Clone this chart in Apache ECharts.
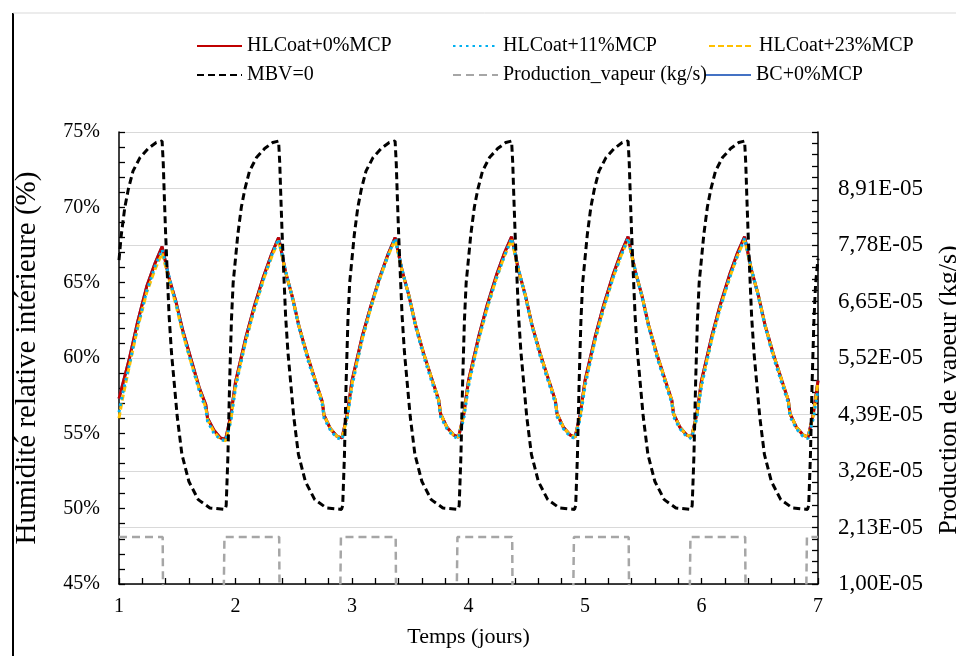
<!DOCTYPE html>
<html><head><meta charset="utf-8">
<script src="https://cdn.jsdelivr.net/npm/echarts@6/dist/echarts.min.js"></script>
<style>html,body{margin:0;padding:0;background:#fff;overflow:hidden;width:956px;height:656px}#c{width:956px;height:656px;display:block}</style>
</head><body><div id="c"></div>
<script>
// ---- DATA ----
const humTime = [
1,1.03,1.09,1.16,1.24,1.31,1.37,1.43,1.49,1.545,1.615,1.69,1.745,1.76,1.815,1.87,1.915,1.96,
2,2.03,2.09,2.16,2.24,2.31,2.37,2.43,2.49,2.545,2.615,2.69,2.745,2.76,2.815,2.87,2.915,2.96,
3,3.03,3.09,3.16,3.24,3.31,3.37,3.43,3.49,3.545,3.615,3.69,3.745,3.76,3.815,3.87,3.915,3.96,
4,4.03,4.09,4.16,4.24,4.31,4.37,4.43,4.49,4.545,4.615,4.69,4.745,4.76,4.815,4.87,4.915,4.96,
5,5.03,5.09,5.16,5.24,5.31,5.37,5.43,5.49,5.545,5.615,5.69,5.745,5.76,5.815,5.87,5.915,5.96,
6,6.03,6.09,6.16,6.24,6.31,6.37,6.43,6.49,6.545,6.615,6.69,6.745,6.76,6.815,6.87,6.915,6.96,
7];
const hlcoat0 = [
57.3,58.2,60.0,62.4,64.8,66.3,67.4,65.3,63.7,61.9,60.0,58.0,56.9,56.0,55.2,54.7,54.6,56.2,
58.4,59.4,61.4,63.4,65.4,66.9,68.0,65.7,64.0,62.1,60.2,58.4,57.1,56.2,55.3,54.8,54.7,56.3,
58.5,59.5,61.5,63.4,65.4,66.9,68.0,65.8,64.1,62.2,60.3,58.5,57.2,56.3,55.4,54.9,54.75,56.3,
58.5,59.5,61.5,63.5,65.5,67.0,68.05,65.8,64.1,62.2,60.3,58.5,57.2,56.3,55.4,54.9,54.75,56.3,
58.5,59.5,61.5,63.5,65.5,67.0,68.05,65.8,64.1,62.2,60.3,58.5,57.2,56.3,55.4,54.9,54.75,56.3,
58.5,59.5,61.5,63.5,65.5,67.0,68.05,65.8,64.1,62.2,60.3,58.5,57.2,56.3,55.4,54.9,54.75,56.3,
58.5];
const hlcoat11 = [
56.4,57.6,59.6,62.1,64.5,66.1,67.2,65.4,63.6,61.8,59.8,57.8,56.6,55.8,55.0,54.6,54.5,55.8,
58.0,59.1,61.2,63.2,65.2,66.8,67.9,65.8,63.9,62.0,60.0,58.2,56.9,56.0,55.2,54.7,54.6,56.0,
58.1,59.2,61.3,63.3,65.3,66.8,67.95,65.9,64.0,62.1,60.1,58.3,57.0,56.1,55.3,54.8,54.65,56.0,
58.1,59.2,61.3,63.3,65.3,66.8,67.95,65.9,64.0,62.1,60.1,58.3,57.0,56.1,55.3,54.8,54.65,56.0,
58.1,59.2,61.3,63.3,65.3,66.8,67.95,65.9,64.0,62.1,60.1,58.3,57.0,56.1,55.3,54.8,54.65,56.0,
58.1,59.2,61.3,63.3,65.3,66.8,67.95,65.9,64.0,62.1,60.1,58.3,57.0,56.1,55.3,54.8,54.65,56.0,
57.9];
const hlcoat23 = [
56.0,57.3,59.5,62.0,64.4,65.9,66.95,65.2,63.5,61.7,59.8,57.9,56.7,55.9,55.1,54.6,54.5,55.9,
58.2,59.2,61.2,63.2,65.2,66.7,67.8,65.7,64.0,62.1,60.2,58.4,57.1,56.2,55.3,54.8,54.7,56.1,
58.3,59.3,61.3,63.3,65.3,66.8,67.85,65.8,64.1,62.2,60.3,58.5,57.2,56.3,55.4,54.9,54.75,56.2,
58.3,59.3,61.3,63.3,65.3,66.8,67.85,65.8,64.1,62.2,60.3,58.5,57.2,56.3,55.4,54.9,54.75,56.2,
58.3,59.3,61.3,63.3,65.3,66.8,67.85,65.8,64.1,62.2,60.3,58.5,57.2,56.3,55.4,54.9,54.75,56.2,
58.3,59.3,61.3,63.3,65.3,66.8,67.85,65.8,64.1,62.2,60.3,58.5,57.2,56.3,55.4,54.9,54.75,56.2,
58.4];
const bc0 = [
57.3,58.2,60.0,62.4,64.8,66.3,67.4,65.3,63.7,61.9,60.0,58.0,56.9,56.0,55.2,54.7,54.6,56.2,
58.4,59.4,61.4,63.4,65.4,66.9,68.0,65.7,64.0,62.1,60.2,58.4,57.1,56.2,55.3,54.8,54.7,56.3,
58.5,59.5,61.5,63.4,65.4,66.9,68.0,65.8,64.1,62.2,60.3,58.5,57.2,56.3,55.4,54.9,54.75,56.3,
58.5,59.5,61.5,63.5,65.5,67.0,68.05,65.8,64.1,62.2,60.3,58.5,57.2,56.3,55.4,54.9,54.75,56.3,
58.5,59.5,61.5,63.5,65.5,67.0,68.05,65.8,64.1,62.2,60.3,58.5,57.2,56.3,55.4,54.9,54.75,56.3,
58.5,59.5,61.5,63.5,65.5,67.0,68.05,65.8,64.1,62.2,60.3,58.5,57.2,56.3,55.4,54.9,54.75,56.3,
58.5];
const mbvTime = [
1,1.02,1.05,1.08,1.12,1.18,1.25,1.32,1.37,1.38,1.39,1.40,1.415,1.43,1.45,1.50,1.54,1.60,1.68,1.78,1.91,1.92,1.935,1.95,1.965,1.98,
2,2.02,2.05,2.08,2.12,2.18,2.25,2.32,2.37,2.38,2.39,2.40,2.415,2.43,2.45,2.50,2.54,2.60,2.68,2.78,2.91,2.92,2.935,2.95,2.965,2.98,
3,3.02,3.05,3.08,3.12,3.18,3.25,3.32,3.37,3.38,3.39,3.40,3.415,3.43,3.45,3.50,3.54,3.60,3.68,3.78,3.91,3.92,3.935,3.95,3.965,3.98,
4,4.02,4.05,4.08,4.12,4.18,4.25,4.32,4.37,4.38,4.39,4.40,4.415,4.43,4.45,4.50,4.54,4.60,4.68,4.78,4.91,4.92,4.935,4.95,4.965,4.98,
5,5.02,5.05,5.08,5.12,5.18,5.25,5.32,5.37,5.38,5.39,5.40,5.415,5.43,5.45,5.50,5.54,5.60,5.68,5.78,5.91,5.92,5.935,5.95,5.965,5.98,
6,6.02,6.05,6.08,6.12,6.18,6.25,6.32,6.37,6.38,6.39,6.40,6.415,6.43,6.45,6.50,6.54,6.60,6.68,6.78,6.91,6.92,6.935,6.95,6.965,6.98,
7];
const mbv0 = [
66.5,68.2,70.0,71.2,72.4,73.3,73.9,74.3,74.4,72.9,70.5,68.3,65.5,62.8,60.4,56.1,53.6,51.8,50.6,50.05,49.95,50.2,53.5,58.5,62.5,65.0,
66.6,68.2,70.0,71.2,72.4,73.3,73.9,74.3,74.4,72.9,70.5,68.3,65.5,62.8,60.4,56.1,53.6,51.8,50.6,50.05,49.95,50.2,53.5,58.5,62.5,65.0,
66.6,68.2,70.0,71.2,72.4,73.3,73.9,74.3,74.4,72.9,70.5,68.3,65.5,62.8,60.4,56.1,53.6,51.8,50.6,50.05,49.95,50.2,53.5,58.5,62.5,65.0,
66.6,68.2,70.0,71.2,72.4,73.3,73.9,74.3,74.4,72.9,70.5,68.3,65.5,62.8,60.4,56.1,53.6,51.8,50.6,50.05,49.95,50.2,53.5,58.5,62.5,65.0,
66.6,68.2,70.0,71.2,72.4,73.3,73.9,74.3,74.4,72.9,70.5,68.3,65.5,62.8,60.4,56.1,53.6,51.8,50.6,50.05,49.95,50.2,53.5,58.5,62.5,65.0,
66.6,68.2,70.0,71.2,72.4,73.3,73.9,74.3,74.4,72.9,70.5,68.3,65.5,62.8,60.4,56.1,53.6,51.8,50.6,50.05,49.95,50.2,53.5,58.5,62.5,65.0,
66.6];
const prodTime = [1,1.375,1.38,1.895,1.905,2.375,2.38,2.895,2.905,3.375,3.38,3.895,3.905,4.375,4.38,4.895,4.905,5.375,5.38,5.895,5.905,6.375,6.38,6.895,6.905,7];
const prodVapeur = [1.94e-5,1.94e-5,0,0,1.94e-5,1.94e-5,0,0,1.94e-5,1.94e-5,0,0,1.94e-5,1.94e-5,0,0,1.94e-5,1.94e-5,0,0,1.94e-5,1.94e-5,0,0,1.94e-5,1.94e-5];
const seriesNames = ['HLCoat+0%MCP','HLCoat+11%MCP','HLCoat+23%MCP','MBV=0','Production_vapeur (kg/s)','BC+0%MCP'];
const leftTicks = {min:45, max:75, interval:5};
const rightTicks = {min:1.0e-5, interval:1.13e-5, count:8};

// ---- CHART ----
const FONT = 'Liberation Serif';
const SCALE = 1e5; // right axis drawn in units of 1e-5 kg/s, offset so the axis min is 0
const toRight = v => (v - rightTicks.min) * SCALE;
function fmtRight(v){
  const r = v / SCALE + rightTicks.min;
  const parts = r.toExponential(2).split('e');
  const e = parseInt(parts[1],10);
  return parts[0].replace('.', ',') + 'E' + (e < 0 ? '-' : '+') + String(Math.abs(e)).padStart(2,'0');
}
const pair = (ts, vs, f) => ts.map((t,i)=>[t, f ? f(vs[i]) : vs[i]]);

const chart = echarts.init(document.getElementById('c'), null, {renderer:'canvas', width:956, height:656});
const legendPos = [
  {left:191, top:31},{left:447, top:31},{left:703, top:31},
  {left:191, top:60},{left:447, top:60},{left:700, top:60}
];
const tickStyle = {show:true, inside:true, length:6, lineStyle:{color:'#000', width:1.3}};
const minorStyle = {show:true, splitNumber:5, length:6, lineStyle:{color:'#000', width:1.3}};

chart.setOption({
  animation:false,
  backgroundColor:'#fff',
  textStyle:{fontFamily:FONT},
  graphic:[
    {type:'line', shape:{x1:13,y1:13,x2:13,y2:656}, style:{stroke:'#000', lineWidth:2}},
    {type:'line', shape:{x1:13,y1:13,x2:956,y2:13}, style:{stroke:'#d9d9d9', lineWidth:1}}
  ],
  legend: seriesNames.map((n,i)=>({
    data:[n], left:legendPos[i].left, top:legendPos[i].top, itemWidth:45, itemHeight:14, itemGap:5,
    selectedMode:false, itemStyle:{opacity:0},
    textStyle:{fontFamily:FONT, fontSize:20, color:'#000'}
  })),
  grid:{left:119, right:138, top:132, bottom:72, containLabel:false, outerBoundsMode:'none'},
  xAxis:{
    type:'value', min:1, max:7, interval:1,
    name:'Temps (jours)', nameLocation:'middle', nameGap:42,
    nameTextStyle:{fontFamily:FONT, fontSize:22, color:'#000'},
    axisLine:{lineStyle:{color:'#000', width:1.5}},
    axisTick:tickStyle, minorTick:minorStyle,
    axisLabel:{fontFamily:FONT, fontSize:20, color:'#000', margin:13},
    splitLine:{show:false}
  },
  yAxis:[
    {
      type:'value', min:leftTicks.min, max:leftTicks.max, interval:leftTicks.interval, position:'left',
      name:'Humidité relative intérieure (%)', nameLocation:'middle', nameGap:77, nameRotate:90,
      nameTextStyle:{fontFamily:FONT, fontSize:29, color:'#000'},
      axisLine:{show:true, lineStyle:{color:'#000', width:1.5}},
      axisTick:tickStyle, minorTick:minorStyle,
      axisLabel:{fontFamily:FONT, fontSize:20, color:'#000', margin:19, formatter:'{value}%'},
      splitLine:{show:false}
    },
    {
      type:'value', min:0, max:rightTicks.interval*rightTicks.count*SCALE, interval:rightTicks.interval*SCALE, position:'right',
      name:'Production de vapeur (kg/s)', nameLocation:'middle', nameGap:118, nameRotate:90,
      nameTextStyle:{fontFamily:FONT, fontSize:26, color:'#000', padding:[0,64,0,0]},
      axisLine:{show:true, lineStyle:{color:'#000', width:1.5}},
      axisTick:tickStyle, minorTick:minorStyle,
      axisLabel:{fontFamily:FONT, fontSize:23, color:'#000', margin:20, formatter:fmtRight, showMaxLabel:false},
      splitLine:{show:true, lineStyle:{color:'#d9d9d9', width:1.2}}
    }
  ],
  series:[
    {name:'BC+0%MCP', type:'line', data:pair(humTime, bc0), symbol:'none', z:2,
      lineStyle:{color:'#4472c4', width:3}, itemStyle:{color:'#4472c4'}},
    {name:'HLCoat+0%MCP', type:'line', data:pair(humTime, hlcoat0), symbol:'none', z:3,
      lineStyle:{color:'#c00000', width:3}, itemStyle:{color:'#c00000'}},
    {name:'HLCoat+23%MCP', type:'line', data:pair(humTime, hlcoat23), symbol:'none', z:4,
      lineStyle:{color:'#ffc000', width:3, type:[6,3]}, itemStyle:{color:'#ffc000'}},
    {name:'HLCoat+11%MCP', type:'line', data:pair(humTime, hlcoat11), symbol:'none', z:5,
      lineStyle:{color:'#00b0f0', width:3, type:[2.5,4]}, itemStyle:{color:'#00b0f0'}},
    {name:'MBV=0', type:'line', data:pair(mbvTime, mbv0), symbol:'none', z:6,
      lineStyle:{color:'#000', width:3, type:[7,4]}, itemStyle:{color:'#000'}},
    {name:'Production_vapeur (kg/s)', type:'line', yAxisIndex:1, data:pair(prodTime, prodVapeur, toRight), symbol:'none', z:6,
      lineStyle:{color:'#a6a6a6', width:2.5, type:[8,5]}, itemStyle:{color:'#a6a6a6'}}
  ]
});
</script>
</body></html>
